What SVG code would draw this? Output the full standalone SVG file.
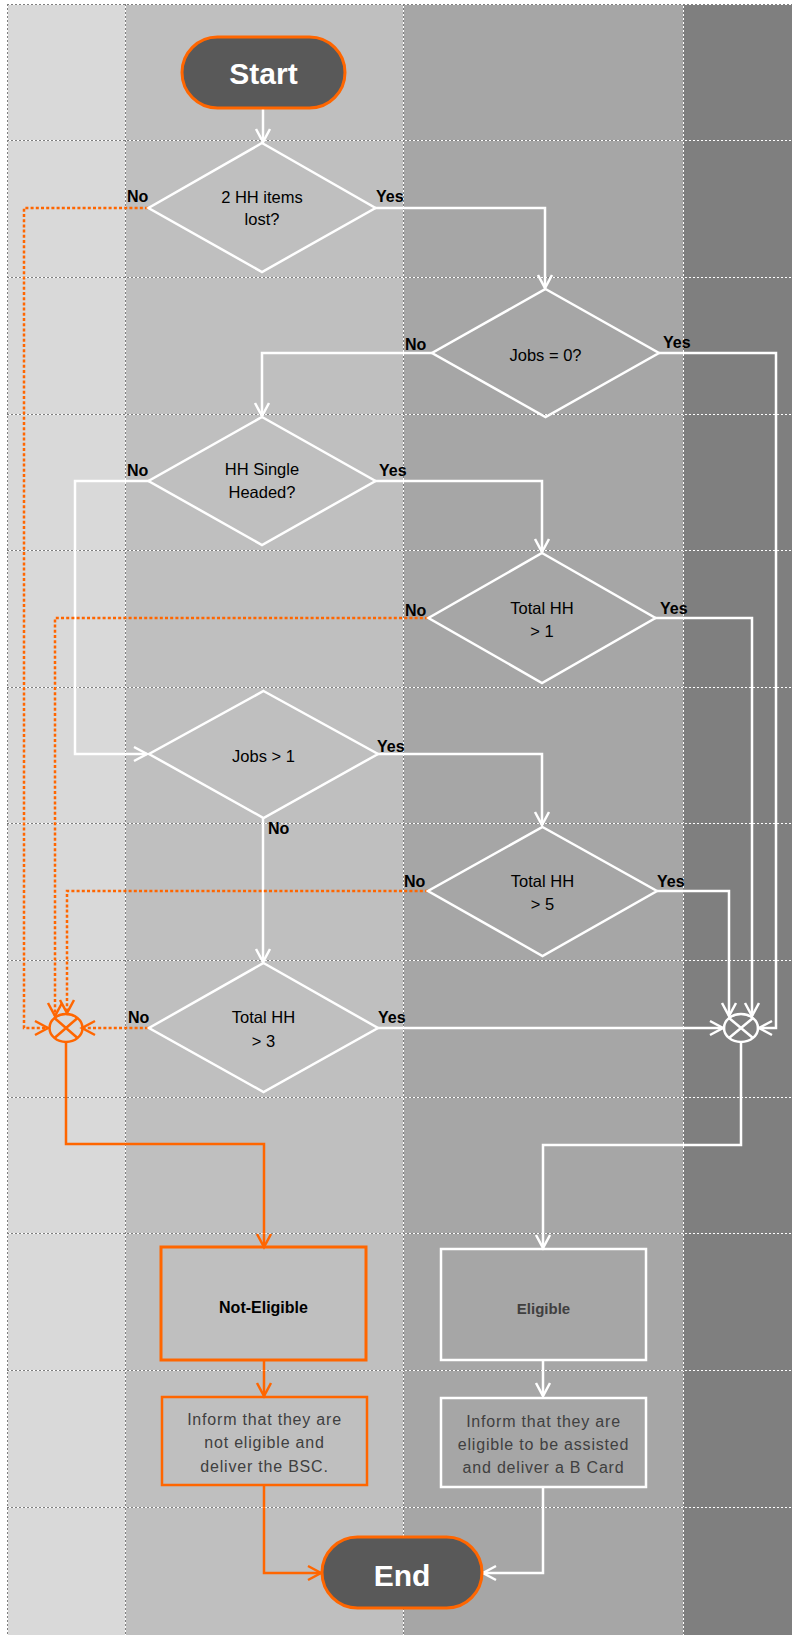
<svg xmlns="http://www.w3.org/2000/svg" width="792" height="1635" viewBox="0 0 792 1635">
<style>
.div{stroke:#ffffff;stroke-width:1;fill:none}
.divd{stroke:#7f7f7f;stroke-width:1;stroke-dasharray:2 2;fill:none}
.dia{fill:none;stroke:#ffffff;stroke-width:2.5;stroke-linejoin:miter}
.t{font-family:"Liberation Sans",Arial,sans-serif;font-size:16.5px;fill:#000;text-anchor:middle}
.lb{font-family:"Liberation Sans",Arial,sans-serif;font-size:16px;font-weight:bold;fill:#000}
.term{fill:#595959;stroke:#ff6600;stroke-width:3}
.tt{font-family:"Liberation Sans",Arial,sans-serif;font-size:30px;font-weight:bold;fill:#ffffff;text-anchor:middle}
.inf{font-family:"Liberation Sans",Arial,sans-serif;font-size:16px;fill:#404040;text-anchor:middle;letter-spacing:0.8px}
.w{fill:none;stroke:#ffffff;stroke-width:2.5}
.o{fill:none;stroke:#ff6600;stroke-width:2.5}
.od{fill:none;stroke:#ff6600;stroke-width:2.5;stroke-dasharray:3 2.2}
</style>
<defs>
<marker id="aw" markerUnits="userSpaceOnUse" markerWidth="17" markerHeight="17" viewBox="0 0 17 17" refX="14.5" refY="8.5" orient="auto" overflow="visible">
<path d="M1.5,1.5 L14.5,8.5 L1.5,15.5" fill="none" stroke="#ffffff" stroke-width="2.5"/>
</marker>
<marker id="ao" markerUnits="userSpaceOnUse" markerWidth="17" markerHeight="17" viewBox="0 0 17 17" refX="14.5" refY="8.5" orient="auto" overflow="visible">
<path d="M1.5,1.5 L14.5,8.5 L1.5,15.5" fill="none" stroke="#ff6600" stroke-width="2.5"/>
</marker>
</defs>
<rect x="0" y="0" width="792" height="1635" fill="#ffffff"/>
<g id="lanes">
<rect x="7" y="4" width="118" height="1631" fill="#d9d9d9"/>
<rect x="125" y="4" width="278" height="1631" fill="#bfbfbf"/>
<rect x="403" y="4" width="280" height="1631" fill="#a6a6a6"/>
<rect x="683" y="4" width="109" height="1631" fill="#7f7f7f"/>
<path class="div" d="M7,4.5H792 M7,140.5H792 M7,277.5H792 M7,414.5H792 M7,550.5H792 M7,687.5H792 M7,823.5H792 M7,960.5H792 M7,1097.5H792 M7,1233.5H792 M7,1370.5H792 M7,1507.5H792 M7.5,4V1635 M125.5,4V1635 M403.5,4V1635 M683.5,4V1635"/>
<path class="divd" d="M7,4.5H792 M7,140.5H792 M7,277.5H792 M7,414.5H792 M7,550.5H792 M7,687.5H792 M7,823.5H792 M7,960.5H792 M7,1097.5H792 M7,1233.5H792 M7,1370.5H792 M7,1507.5H792 M7.5,4V1635 M125.5,4V1635 M403.5,4V1635 M683.5,4V1635"/>
</g>
<g id="connectors">
<path class="w" d="M263,109V142" marker-end="url(#aw)"/>
<path class="w" d="M375,208H545V288" marker-end="url(#aw)"/>
<path class="od" d="M148,208H24V1028H48" marker-end="url(#ao)"/>
<path class="w" d="M432,353H262V416" marker-end="url(#aw)"/>
<path class="w" d="M659,353H776V1028H759" marker-end="url(#aw)"/>
<path class="w" d="M149,481H75V754H147" marker-end="url(#aw)"/>
<path class="w" d="M375,481H542V552" marker-end="url(#aw)"/>
<path class="od" d="M428,618H55V1016" marker-end="url(#ao)"/>
<path class="w" d="M655,618H752V1016" marker-end="url(#aw)"/>
<path class="w" d="M377,754H542V825" marker-end="url(#aw)"/>
<path class="w" d="M263,818V962" marker-end="url(#aw)"/>
<path class="od" d="M428,891H67V1013" marker-end="url(#ao)"/>
<path class="w" d="M657,891H729V1016" marker-end="url(#aw)"/>
<path class="od" d="M148,1028H82" marker-end="url(#ao)"/>
<path class="w" d="M377,1028H723" marker-end="url(#aw)"/>
<path class="o" d="M66,1042V1144H264V1247" marker-end="url(#ao)"/>
<path class="w" d="M741,1042V1145H543V1248" marker-end="url(#aw)"/>
<path class="o" d="M264,1360V1396" marker-end="url(#ao)"/>
<path class="w" d="M543,1360V1396" marker-end="url(#aw)"/>
<path class="o" d="M264,1486V1573H321" marker-end="url(#ao)"/>
<path class="w" d="M543,1487V1573H483" marker-end="url(#aw)"/>
</g>
<g id="start">
<rect class="term" x="182" y="37" width="163" height="71" rx="35.5" ry="35.5"/>
<text class="tt" x="263.5" y="84">Start</text>
</g>
<g id="d1">
<polygon class="dia" points="262,143 375.5,208 262,272 148.5,208"/>
<text class="t" x="262" y="203">2 HH items</text>
<text class="t" x="262" y="225">lost?</text>
<text class="lb" x="127" y="202">No</text>
<text class="lb" x="376" y="202">Yes</text>
</g>
<g id="d2">
<polygon class="dia" points="545.5,289 659,353 545.5,417 432,353"/>
<text class="t" x="545.5" y="361">Jobs = 0?</text>
<text class="lb" x="405" y="350">No</text>
<text class="lb" x="663" y="348">Yes</text>
</g>
<g id="d3">
<polygon class="dia" points="262,417 375.5,481 262,545 148.5,481"/>
<text class="t" x="262" y="475">HH Single</text>
<text class="t" x="262" y="498">Headed?</text>
<text class="lb" x="127" y="476">No</text>
<text class="lb" x="379" y="476">Yes</text>
</g>
<g id="d4">
<polygon class="dia" points="542,553 655.5,618 542,683 428.5,618"/>
<text class="t" x="542" y="614">Total HH</text>
<text class="t" x="542" y="637">&gt; 1</text>
<text class="lb" x="405" y="616">No</text>
<text class="lb" x="660" y="614">Yes</text>
</g>
<g id="d5">
<polygon class="dia" points="263.5,691 378,754 263.5,818 149,754"/>
<text class="t" x="263.5" y="762">Jobs &gt; 1</text>
<text class="lb" x="377" y="752">Yes</text>
<text class="lb" x="268" y="834">No</text>
</g>
<g id="d6">
<polygon class="dia" points="542.5,827 657,891 542.5,956 428,891"/>
<text class="t" x="542.5" y="887">Total HH</text>
<text class="t" x="542.5" y="910">&gt; 5</text>
<text class="lb" x="404" y="887">No</text>
<text class="lb" x="657" y="887">Yes</text>
</g>
<g id="d7">
<polygon class="dia" points="263.5,963 378,1028 263.5,1092 149,1028"/>
<text class="t" x="263.5" y="1023">Total HH</text>
<text class="t" x="263.5" y="1047">&gt; 3</text>
<text class="lb" x="128" y="1023">No</text>
<text class="lb" x="378" y="1023">Yes</text>
</g>
<g id="j1">
<ellipse cx="66" cy="1028" rx="16.5" ry="14" fill="none" stroke="#ff6600" stroke-width="2.5"/>
<path d="M54.5,1018 L77.5,1038 M77.5,1018 L54.5,1038" stroke="#ff6600" stroke-width="2.5" fill="none"/>
</g>
<g id="j2">
<ellipse cx="741" cy="1028" rx="17" ry="14" fill="none" stroke="#ffffff" stroke-width="2.5"/>
<path d="M729,1018 L753,1038 M753,1018 L729,1038" stroke="#ffffff" stroke-width="2.5" fill="none"/>
</g>
<g id="noteligible">
<rect x="161" y="1247" width="205" height="113" fill="none" stroke="#ff6600" stroke-width="3"/>
<text class="lb" x="263.5" y="1313" text-anchor="middle">Not-Eligible</text>
</g>
<g id="eligible">
<rect x="441" y="1249" width="205" height="111" fill="none" stroke="#ffffff" stroke-width="2.5"/>
<text class="lb" x="543.5" y="1314" text-anchor="middle" style="fill:#404040;font-size:15px">Eligible</text>
</g>
<g id="inform1">
<rect x="162" y="1397" width="205" height="88" fill="none" stroke="#ff6600" stroke-width="2.5"/>
<text class="inf" x="264.5" y="1425">Inform that they are</text>
<text class="inf" x="264.5" y="1448">not eligible and</text>
<text class="inf" x="264.5" y="1472">deliver the BSC.</text>
</g>
<g id="inform2">
<rect x="441" y="1398" width="205" height="89" fill="none" stroke="#ffffff" stroke-width="2.5"/>
<text class="inf" x="543.5" y="1427">Inform that they are</text>
<text class="inf" x="543.5" y="1450">eligible to be assisted</text>
<text class="inf" x="543.5" y="1473">and deliver a B Card</text>
</g>
<g id="end">
<rect class="term" x="322" y="1537" width="160" height="71" rx="35.5" ry="35.5"/>
<text class="tt" x="402" y="1586">End</text>
</g>
</svg>
